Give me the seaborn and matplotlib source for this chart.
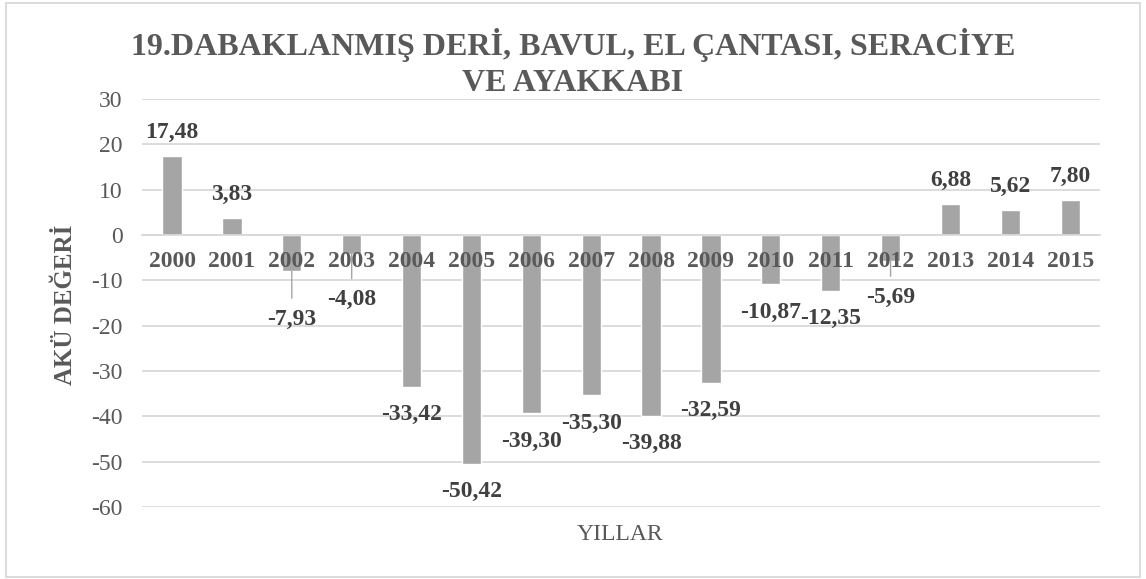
import matplotlib
matplotlib.use('Agg')
import matplotlib.pyplot as plt
import matplotlib.patches as mpatches
import seaborn as sns
import pandas as pd

years = ['2000', '2001', '2002', '2003', '2004', '2005', '2006', '2007',
         '2008', '2009', '2010', '2011', '2012', '2013', '2014', '2015']
values = [17.48, 3.83, -7.93, -4.08, -33.42, -50.42, -39.30, -35.30,
          -39.88, -32.59, -10.87, -12.35, -5.69, 6.88, 5.62, 7.80]
title = '19.DABAKLANMIŞ DERİ, BAVUL, EL ÇANTASI, SERACİYE\nVE AYAKKABI'
ylabel = 'AKÜ DEĞERİ'
xlabel = 'YILLAR'

# labels pushed further from the bar (with a leader line), in points
leader = {'2002': 34.5, '2003': 33, '2012': 26}

BAR = '#a5a5a5'
GRID = '#d9d9d9'
TXT = '#595959'
LBL = '#404040'

sns.set_theme(style='white')
plt.rcParams['font.family'] = ['Liberation Serif', 'DejaVu Serif']
plt.rcParams['axes.unicode_minus'] = False

df = pd.DataFrame({'year': years, 'value': values})

fig = plt.figure(figsize=(11.46, 5.79), dpi=100)
ax = fig.add_axes([0.124, 0.124, 0.836, 0.705])

sns.barplot(data=df, x='year', y='value', color=BAR, saturation=1,
            width=0.32, ax=ax, zorder=2)

ax.set_ylim(-60, 30)
ax.set_yticks(range(-60, 31, 10))
ax.yaxis.grid(True, color=GRID, linewidth=1.3, zorder=0)
ax.tick_params(axis='y', labelsize=17, labelcolor=TXT, length=0, pad=14)
for s in ['left', 'right', 'top']:
    ax.spines[s].set_visible(False)
ax.spines['bottom'].set_position(('data', 0))
ax.spines['bottom'].set_color(GRID)
ax.spines['bottom'].set_linewidth(1.3)
ax.tick_params(axis='x', length=0, labelbottom=False)
ax.set_xlabel('')
ax.set_ylabel('')

# category labels sit on the zero line, above the bars
for i, yr in enumerate(years):
    ax.annotate(yr, xy=(i, 0), xytext=(0, -19), textcoords='offset points',
                ha='center', va='center', fontsize=17, fontweight='bold',
                color=TXT, zorder=5)

for i, (yr, v) in enumerate(zip(years, values)):
    txt = '{:.2f}'.format(v).replace('.', ',')
    if yr in leader:
        ax.annotate(txt, xy=(i, v), xytext=(0, -leader[yr]), textcoords='offset points',
                    ha='center', va='center', fontsize=17, fontweight='bold', color=LBL,
                    arrowprops=dict(arrowstyle='-', color=BAR, lw=1, shrinkA=5, shrinkB=0),
                    zorder=3)
    else:
        off = 17 if v > 0 else -20
        ax.annotate(txt, xy=(i, v), xytext=(0, off), textcoords='offset points',
                    ha='center', va='center', fontsize=17, fontweight='bold', color=LBL,
                    zorder=3)

fig.text(0.5, 0.891, title, ha='center', va='center', fontsize=23,
         fontweight='bold', color=TXT, linespacing=1.3)
fig.text(0.057, 0.473, ylabel, ha='center', va='center', rotation=90,
         fontsize=18, fontweight='bold', color=TXT)
fig.text(0.541, 0.077, xlabel, ha='center', va='center', fontsize=17, color=TXT)

fig.patches.append(mpatches.Rectangle((0.005, 0.004), 0.99, 0.99, transform=fig.transFigure,
                                      fill=False, edgecolor=GRID, linewidth=1.3))

fig.savefig('out.png', dpi=100)
